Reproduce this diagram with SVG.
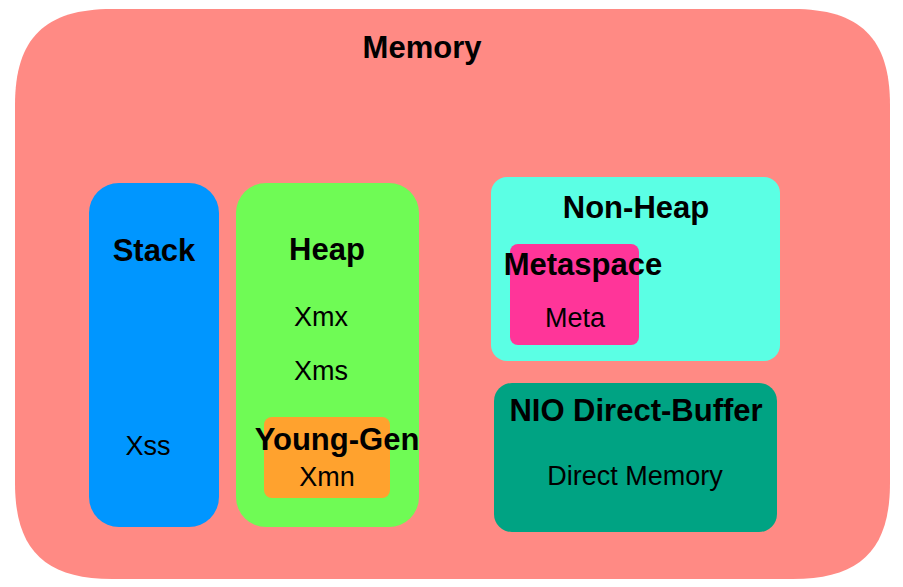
<svg xmlns="http://www.w3.org/2000/svg" width="903" height="587" viewBox="0 0 903 587">
<style>
.b{font-family:"Liberation Sans",Arial,Helvetica,sans-serif;font-weight:bold;font-size:31px;fill:#000;text-anchor:middle}
.n{font-family:"Liberation Sans",Arial,Helvetica,sans-serif;font-size:27px;fill:#000;text-anchor:middle}
</style>
<rect width="903" height="587" fill="#ffffff"/>
<g id="memory">
<path d="M15,105 C15,38 45,9 112,9 L793,9 C860,9 890,38 890,105 L890,483 C890,550 860,579 793,579 L112,579 C45,579 15,550 15,483 Z" fill="#FF8A84"/>
<text class="b" x="422" y="58">Memory</text>
</g>
<g id="stack">
<rect x="89" y="183" width="130" height="344" rx="30" fill="#0096FF"/>
<text class="b" x="154" y="261">Stack</text>
<text class="n" x="148" y="455">Xss</text>
</g>
<g id="heap">
<rect x="236" y="183" width="183" height="344" rx="30" fill="#6FFB55"/>
<text class="b" x="327" y="260">Heap</text>
<text class="n" x="321" y="326">Xmx</text>
<text class="n" x="321" y="380">Xms</text>
</g>
<g id="young-gen">
<rect x="264" y="417" width="126" height="81" rx="8" fill="#FFA22E"/>
<text class="b" x="337" y="450">Young-Gen</text>
<text class="n" x="327" y="486">Xmn</text>
</g>
<g id="non-heap">
<rect x="491" y="177" width="289" height="184" rx="16" fill="#5BFFE4"/>
<text class="b" x="636" y="218">Non-Heap</text>
</g>
<g id="metaspace">
<rect x="510" y="244" width="129" height="101" rx="8" fill="#FF3599"/>
<text class="b" x="583" y="275">Metaspace</text>
<text class="n" x="575" y="327">Meta</text>
</g>
<g id="nio">
<rect x="494" y="383" width="283" height="149" rx="18" fill="#00A383"/>
<text class="b" x="636" y="421">NIO Direct-Buffer</text>
<text class="n" x="635" y="485">Direct Memory</text>
</g>
<g id="connectors"></g>
</svg>
